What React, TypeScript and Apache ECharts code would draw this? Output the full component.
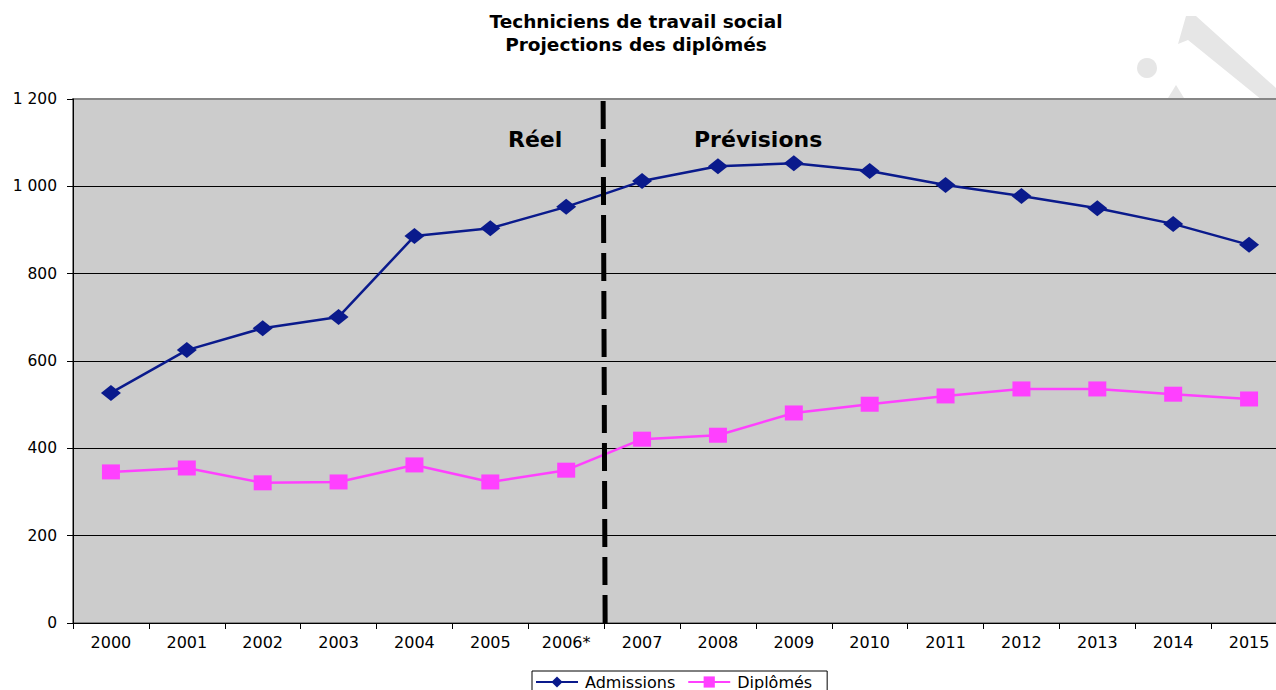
import React, { useEffect, useRef } from "react";
import * as echarts from "echarts";

const titleLines = ["Techniciens de travail social", "Projections des diplômés"];
const years = ["2000", "2001", "2002", "2003", "2004", "2005", "2006*", "2007", "2008", "2009", "2010", "2011", "2012", "2013", "2014", "2015"];
const admissions = [527, 625, 675, 701, 886, 904, 953, 1012, 1046, 1053, 1035, 1003, 978, 950, 914, 866];
const diplomes = [346, 355, 321, 323, 362, 323, 350, 421, 430, 481, 501, 520, 536, 536, 524, 513];
const seriesNames = ["Admissions", "Diplômés"];
const periodLabels = ["Réel", "Prévisions"];
const yMin = 0;
const yMax = 1200;
const yStep = 200;

const FONT = "DejaVu Sans";

export default function App() {
  const ref = useRef<HTMLDivElement>(null);
  useEffect(() => {
    const chart = echarts.init(ref.current!, null, { renderer: "svg" });
    chart.setOption({
      animation: false,
      textStyle: { fontFamily: FONT },
      grid: {
        left: 73,
        top: 99,
        width: 1214,
        height: 524,
        show: true,
        backgroundColor: "#CCCCCC",
        borderColor: "#868686",
        borderWidth: 2,
      },
      legend: {
        left: 532,
        top: 671,
        orient: "horizontal",
        data: seriesNames,
        itemWidth: 42,
        itemHeight: 14,
        itemGap: 12,
        padding: [3, 15, 3, 3],
        borderColor: "#000",
        borderWidth: 1,
        borderRadius: 0,
        textStyle: { fontFamily: FONT, fontSize: 16, color: "#000", padding: [0, 0, 0, 2] },
      },
      xAxis: {
        type: "category",
        data: years,
        boundaryGap: true,
        axisLine: { lineStyle: { color: "#000", width: 1 } },
        axisTick: { show: true, length: 6, interval: 0, lineStyle: { color: "#000" } },
        axisLabel: { interval: 0, margin: 11, color: "#000", fontFamily: FONT, fontSize: 16 },
        splitLine: { show: false },
      },
      yAxis: {
        type: "value",
        min: yMin,
        max: yMax,
        interval: yStep,
        axisLine: { show: true, lineStyle: { color: "#000", width: 1 } },
        axisTick: { show: true, length: 6, lineStyle: { color: "#000" } },
        axisLabel: {
          margin: 16,
          color: "#000",
          fontFamily: FONT,
          fontSize: 15.5,
          formatter: (v: number) => String(v).replace(/\B(?=(\d{3})+(?!\d))/g, " "),
        },
        splitLine: {
          show: true,
          lineStyle: { color: ["#000", "#000", "#000", "#000", "#000", "#000", "#868686"], width: 1 },
        },
      },
      series: [
        {
          name: seriesNames[0],
          type: "line",
          data: admissions,
          color: "#0A1A8C",
          symbol: "diamond",
          symbolSize: [20, 16],
          lineStyle: { width: 2.5, color: "#0A1A8C" },
          itemStyle: { color: "#0A1A8C" },
          z: 3,
        },
        {
          name: seriesNames[1],
          type: "line",
          data: diplomes,
          color: "#FF40FF",
          symbol: "rect",
          symbolSize: [18, 15],
          lineStyle: { width: 2.5, color: "#FF40FF" },
          itemStyle: { color: "#FF40FF" },
          z: 3,
        },
      ],
    });

    const x6 = chart.convertToPixel({ xAxisIndex: 0 }, years[6]) as number;
    const x7 = chart.convertToPixel({ xAxisIndex: 0 }, years[7]) as number;
    const xm = (x6 + x7) / 2;
    const yTop = chart.convertToPixel({ yAxisIndex: 0 }, yMax) as number;
    const yBot = chart.convertToPixel({ yAxisIndex: 0 }, yMin) as number;

    const wm = "#E6E6E6";
    chart.setOption({
      graphic: [
        { type: "circle", z: -10, shape: { cx: 1147, cy: 68, r: 10 }, style: { fill: wm } },
        {
          type: "polygon",
          z: -10,
          shape: { points: [[1186, 16], [1196, 16], [1276, 88], [1276, 100], [1262, 100], [1188, 40], [1178, 44]] },
          style: { fill: wm },
        },
        {
          type: "polygon",
          z: -10,
          shape: { points: [[1168, 98], [1176, 85], [1184, 98]] },
          style: { fill: wm },
        },
        {
          type: "text",
          x: 636,
          y: 21,
          z: 100,
          style: {
            text: titleLines[0],
            align: "center",
            verticalAlign: "middle",
            fontFamily: FONT,
            fontWeight: "bold",
            fontSize: 18.5,
            fill: "#000",
          },
        },
        {
          type: "text",
          x: 636,
          y: 44,
          z: 100,
          style: {
            text: titleLines[1],
            align: "center",
            verticalAlign: "middle",
            fontFamily: FONT,
            fontWeight: "bold",
            fontSize: 18.5,
            fill: "#000",
          },
        },
        {
          type: "line",
          z: 100,
          shape: { x1: xm - 1, y1: yTop + 2, x2: xm + 1, y2: yBot },
          style: { stroke: "#000", lineWidth: 5, lineDash: [28, 10] },
        },
        {
          type: "text",
          x: xm - 69,
          y: 139,
          z: 100,
          style: {
            text: periodLabels[0],
            align: "center",
            verticalAlign: "middle",
            fontFamily: FONT,
            fontWeight: "bold",
            fontSize: 22,
            fill: "#000",
          },
        },
        {
          type: "text",
          x: xm + 154,
          y: 139,
          z: 100,
          style: {
            text: periodLabels[1],
            align: "center",
            verticalAlign: "middle",
            fontFamily: FONT,
            fontWeight: "bold",
            fontSize: 22,
            fill: "#000",
          },
        },
      ],
    });
    return () => chart.dispose();
  }, []);
  return (
    <div style={{ position: "fixed", left: 0, top: 0, width: 1276, height: 690, overflow: "hidden", background: "#fff" }}>
      <div ref={ref} style={{ width: 1300, height: 690 }} />
    </div>
  );
}
